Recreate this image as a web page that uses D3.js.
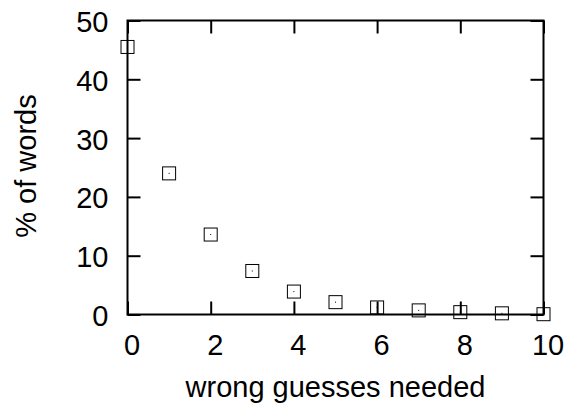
<!DOCTYPE html>
<html>
<head>
<meta charset="utf-8">
<script src="https://cdn.jsdelivr.net/npm/d3@7"></script>
<style>
	body{margin:0;background:#fff;}
	svg text{font-family:"Liberation Sans", Arial, Helvetica, sans-serif;fill:#000;}
</style>
</head>
<body>
<svg id="chart" width="571" height="414"></svg>
<script>
// data
const guesses = [0, 1, 2, 3, 4, 5, 6, 7, 8, 9, 10];
const pctWords = [45.5, 24.0, 13.6, 7.4, 3.9, 2.1, 1.2, 0.7, 0.4, 0.2, 0.05];
const xTicks = [0, 2, 4, 6, 8, 10];
const yTicks = [0, 10, 20, 30, 40, 50];

const margin = {top: 20.5, right: 27.5, bottom: 99.5, left: 127.5};
const width = 571 - margin.left - margin.right,
	height = 414 - margin.top - margin.bottom;
const tickLen = 13, boxSize = 13, fontSize = 29;

const svg = d3.select('#chart');
const g = svg.append('g').attr('transform', 'translate(' + margin.left + ',' + margin.top + ')');

const x = d3.scaleLinear().domain([0, 10]).range([0, width]);
const y = d3.scaleLinear().domain([0, 50]).range([height, 0]);

// frame
g.append('rect')
	.attr('width', width).attr('height', height)
	.attr('fill', 'none').attr('stroke', '#000').attr('stroke-width', 2);

function styleTicks(a){
	a.select('.domain').remove();
	a.selectAll('line').attr('stroke', '#000').attr('stroke-width', 2);
	a.selectAll('text').attr('font-size', fontSize).style('font-family', '"Liberation Sans", Arial, sans-serif');
}

// ticks, gnuplot style (inward, mirrored)
const xg = g.append('g').attr('transform', 'translate(0,' + height + ')')
	.call(d3.axisBottom(x).tickValues(xTicks).tickSizeInner(-tickLen).tickSizeOuter(0))
	.call(styleTicks);
xg.selectAll('text').attr('y', 40.5).attr('dy', null).attr('x', 4);

const yg = g.append('g')
	.call(d3.axisLeft(y).tickValues(yTicks).tickSizeInner(-tickLen).tickSizeOuter(0))
	.call(styleTicks);
yg.selectAll('text').attr('x', -19).attr('dy', null).attr('y', 11);

// mirrored ticks on top and right
g.append('g').call(d3.axisTop(x).tickValues(xTicks).tickSizeInner(-tickLen).tickSizeOuter(0).tickFormat(''))
	.call(styleTicks);
g.append('g').attr('transform', 'translate(' + width + ',0)')
	.call(d3.axisRight(y).tickValues(yTicks).tickSizeInner(-tickLen).tickSizeOuter(0).tickFormat(''))
	.call(styleTicks);

// points
const pts = g.selectAll('g.pt').data(guesses).enter().append('g').attr('class', 'pt')
	.attr('transform', function(d, i){ return 'translate(' + x(d) + ',' + y(pctWords[i]) + ')'; });
pts.append('rect')
	.attr('x', -boxSize / 2).attr('y', -boxSize / 2)
	.attr('width', boxSize).attr('height', boxSize)
	.attr('fill', 'none').attr('stroke', '#000').attr('stroke-width', 1);
pts.append('rect')
	.attr('x', -0.5).attr('y', -0.5).attr('width', 1).attr('height', 1)
	.attr('fill', '#000');

// axis titles
svg.append('text')
	.attr('x', margin.left + width / 2).attr('y', 397)
	.attr('text-anchor', 'middle').attr('font-size', fontSize)
	.text('wrong guesses needed');
svg.append('text')
	.attr('transform', 'translate(36,166) rotate(-90)')
	.attr('text-anchor', 'middle').attr('font-size', fontSize)
	.text('% of words');
</script>
</body>
</html>
